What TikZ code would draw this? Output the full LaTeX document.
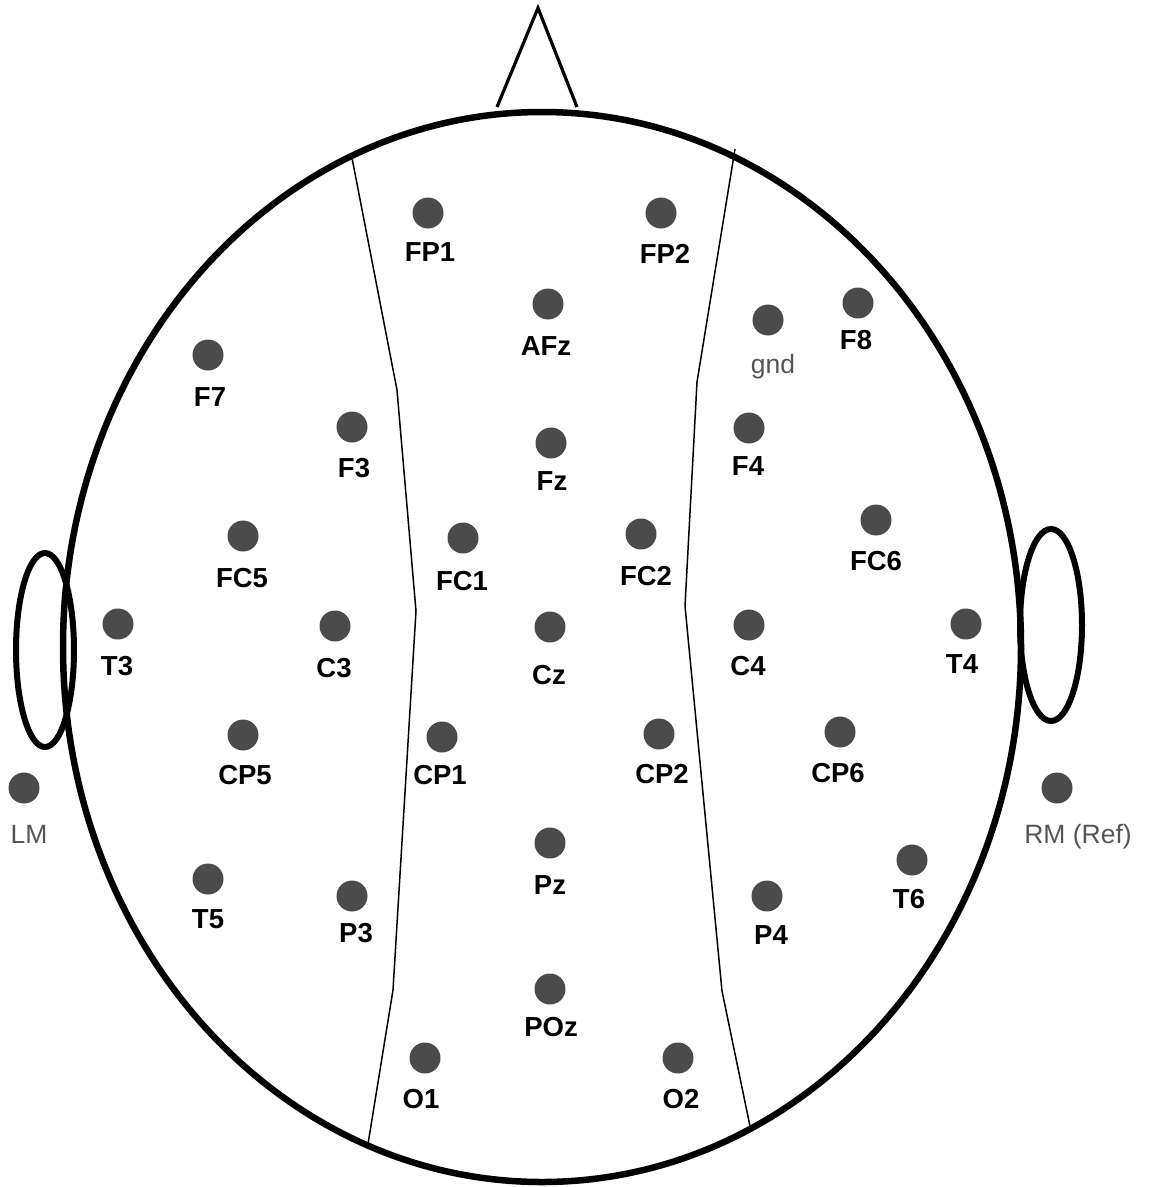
\documentclass[tikz,border=0pt]{standalone}
\usepackage{fontspec}
\setmainfont{Liberation Sans}
\definecolor{dotgray}{HTML}{4B4B4B}
\definecolor{labgray}{HTML}{555555}
\tikzset{
  dot/.style={circle, fill=dotgray, draw=none, minimum size=31pt, inner sep=0pt},
  lab/.style={anchor=base, inner sep=0pt, font=\fontsize{27.5}{32}\selectfont\bfseries, text=black},
  glab/.style={anchor=base, inner sep=0pt, font=\fontsize{26.5}{31}\selectfont, text=labgray},
  headline/.style={line width=6.5pt},
  earline/.style={line width=6pt},
  divline/.style={line width=1.5pt, line join=round},
  noseline/.style={line width=3.2pt, line join=miter}
}
\newcommand{\elec}[6]{%
  \node[dot] (#1) at (#2,#3) {};
  \node[lab] (#1-l) at (#4,#5) {#6};
}
\begin{document}
\begin{tikzpicture}[x=1pt,y=-1pt]
\useasboundingbox (0,0) rectangle (1150,1187);
% nose
\draw[noseline] (497,107) -- (538,8) -- (577,107);
% head
\draw[headline] (542,647) ellipse [x radius=479, y radius=535];
% ears
\draw[earline] (45,650) ellipse [x radius=29, y radius=97];
\draw[earline] (1051,625) ellipse [x radius=31, y radius=96];
% dividing lines
\draw[divline] (352,158) -- (397,390) -- (416,611) -- (393,990) -- (368,1144);
\draw[divline] (735,149) -- (697,382) -- (685,606) -- (722,991) -- (751,1131);
% electrodes
\elec{FP1}{428}{213}{430}{261}{FP1}
\elec{FP2}{661}{213}{665}{263}{FP2}
\elec{AFz}{548}{304}{546}{355}{AFz}
\elec{F8}{858}{303}{856}{349}{F8}
\elec{F7}{208}{355}{210}{406}{F7}
\elec{F3}{352}{427}{354}{477}{F3}
\elec{Fz}{551}{443}{552}{490}{Fz}
\elec{F4}{749}{428}{748}{475}{F4}
\elec{FC5}{243}{536}{242}{587}{FC5}
\elec{FC1}{463}{538}{462}{590}{FC1}
\elec{FC2}{641}{534}{646}{585}{FC2}
\elec{FC6}{876}{520}{876}{570}{FC6}
\elec{T3}{118}{624}{117}{675}{T3}
\elec{C3}{335}{626}{334}{677}{C3}
\elec{Cz}{550}{627}{549}{684}{Cz}
\elec{C4}{749}{625}{748}{675}{C4}
\elec{T4}{966}{624}{962}{673}{T4}
\elec{CP5}{243}{735}{245}{784}{CP5}
\elec{CP1}{442}{737}{440}{784}{CP1}
\elec{CP2}{659}{734}{662}{783}{CP2}
\elec{CP6}{840}{732}{838}{782}{CP6}
\elec{Pz}{550}{843}{550}{894}{Pz}
\elec{T5}{208}{879}{208}{928}{T5}
\elec{P3}{352}{896}{356}{942}{P3}
\elec{P4}{767}{896}{771}{944}{P4}
\elec{T6}{912}{860}{909}{908}{T6}
\elec{POz}{550}{989}{551}{1036}{POz}
\elec{O1}{425}{1058}{421}{1108}{O1}
\elec{O2}{678}{1058}{681}{1108}{O2}
% gray-labelled electrodes
\node[dot] (gnd) at (768,320) {};
\node[glab] (gnd-l) at (773,373) {gnd};
\node[dot] (LM) at (24,788) {};
\node[glab] (LM-l) at (29,843) {LM};
\node[dot] (RM) at (1057,788) {};
\node[glab] (RM-l) at (1078,843) {RM (Ref)};
\end{tikzpicture}
\end{document}
